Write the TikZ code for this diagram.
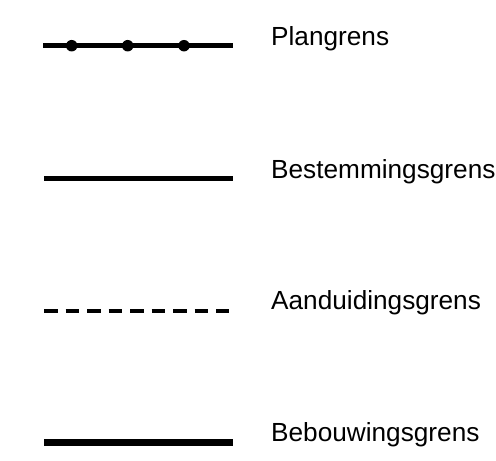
\documentclass[tikz,border=0pt]{standalone}
\usepackage{fontspec}
\setmainfont{Liberation Sans}
\usepackage{tikz}
\usepackage{xcolor}

\begin{document}
\begin{tikzpicture}[x=1pt, y=-1pt,
    label/.style={anchor=base west, inner sep=0pt, font=\fontsize{26.2}{30}\selectfont},
    dot/.style={circle, fill=black, inner sep=0pt, minimum size=11.5pt}]
    \useasboundingbox (0,0) rectangle (496,461);

    % Plangrens
    \coordinate (plan-a) at (43,45.7);
    \coordinate (plan-b) at (233,45.7);
    \draw[line width=5pt] (plan-a) -- (plan-b);
    \node[dot] (dot1) at (71.7,45.7) {};
    \node[dot] (dot2) at (127.7,45.7) {};
    \node[dot] (dot3) at (184,45.7) {};
    \node[label] (plan) at (271,45.7) {Plangrens};

    % Bestemmingsgrens
    \coordinate (best-a) at (44,178.3);
    \coordinate (best-b) at (233,178.3);
    \draw[line width=5pt] (best-a) -- (best-b);
    \node[label] (best) at (271,178.7) {Bestemmingsgrens};

    % Aanduidingsgrens
    \coordinate (aand-a) at (44,311);
    \coordinate (aand-b) at (229,311);
    \draw[line width=4.3pt, dash pattern=on 13.5pt off 8pt] (aand-a) -- (aand-b);
    \node[label] (aand) at (271,309) {Aanduidingsgrens};

    % Bebouwingsgrens
    \coordinate (bebo-a) at (44,442.7);
    \coordinate (bebo-b) at (233,442.7);
    \draw[line width=6.7pt] (bebo-a) -- (bebo-b);
    \node[label] (bebo) at (271,441.7) {Bebouwingsgrens};
\end{tikzpicture}
\end{document}
